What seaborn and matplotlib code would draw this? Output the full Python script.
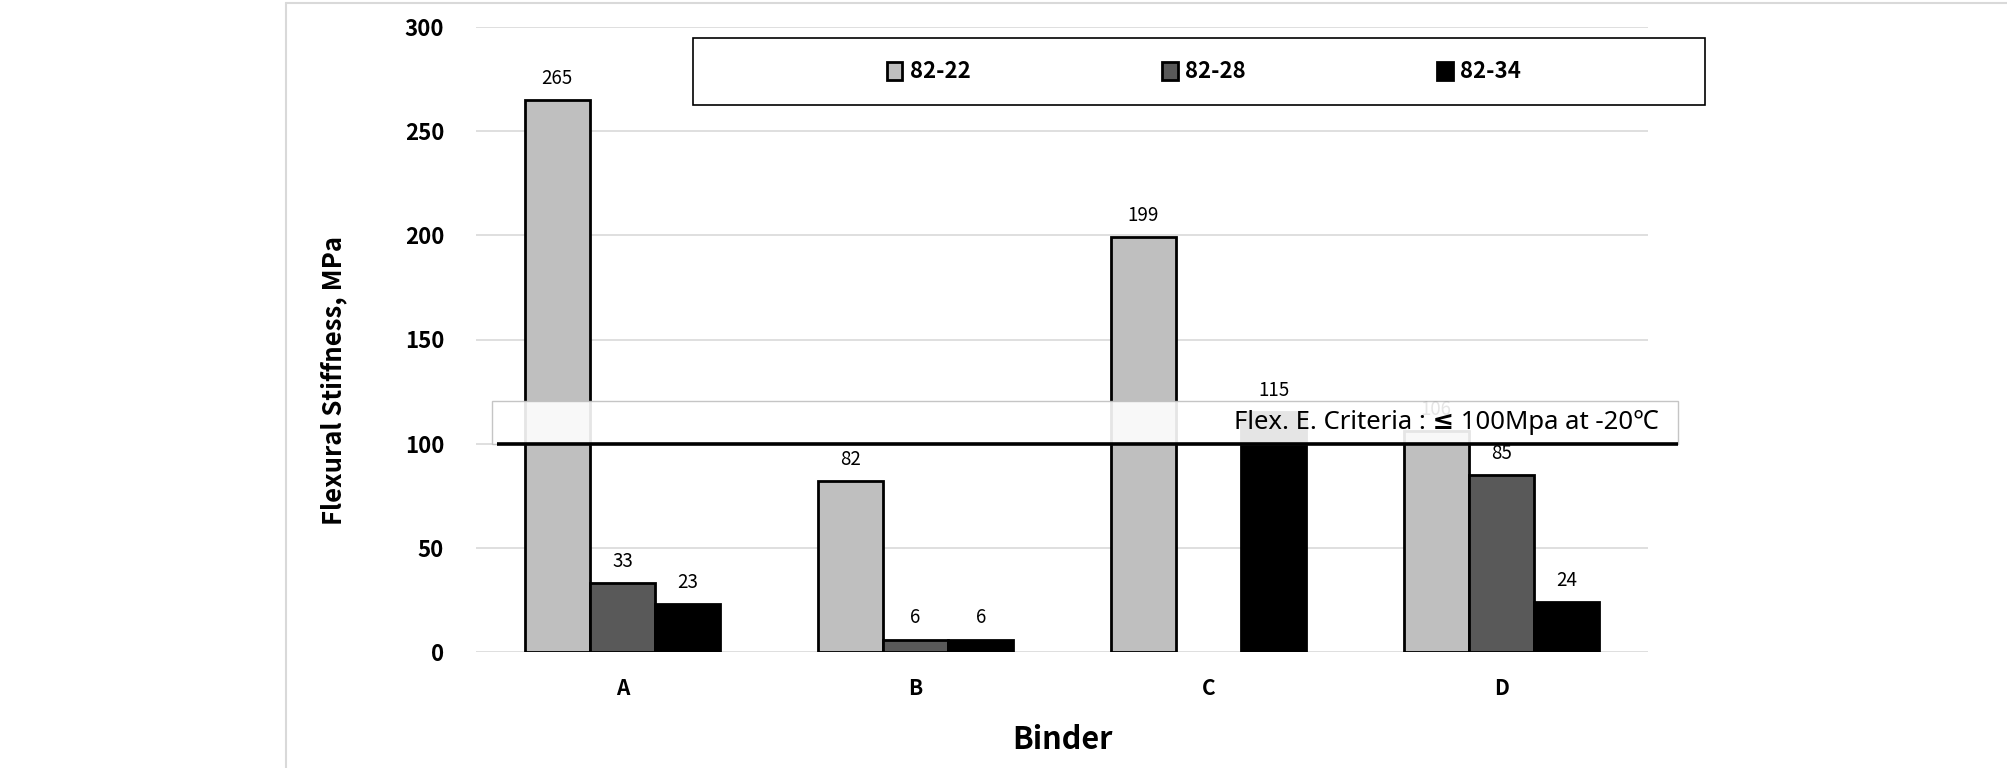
import matplotlib.pyplot as plt
import matplotlib.patches as mpatches
from matplotlib.lines import Line2D
import numpy as np
import pandas as pd
import seaborn as sns

# chart values
binders = ["A", "B", "C", "D"]
grades = ["82-22", "82-28", "82-34"]
stiff_82_22 = [265, 82, 199, 106]
stiff_82_28 = [33, 6, np.nan, 85]
stiff_82_34 = [23, 6, 115, 24]
y_ticks = [0, 50, 100, 150, 200, 250, 300]
criteria_value = 100
criteria_text = "Flex. E. Criteria : \u2264 100Mpa at -20\u2103"

colors = {"82-22": "#BFBFBF", "82-28": "#595959", "82-34": "#000000"}

df = pd.DataFrame({
    "Binder": binders * 3,
    "Grade": [g for g in grades for _ in binders],
    "Stiffness": stiff_82_22 + stiff_82_28 + stiff_82_34,
})

sns.set_theme(style="white")
plt.rcParams['font.family'] = ['Noto Sans CJK KR', 'DejaVu Sans']
plt.rcParams['text.color'] = 'black'

fig = plt.figure(figsize=(20.08, 7.68), dpi=100)
ax = fig.add_axes([476 / 2008, 1 - 652 / 768, (1648 - 476) / 2008, (652 - 27) / 768])

sns.barplot(data=df, x="Binder", y="Stiffness", hue="Grade", hue_order=grades,
            order=binders, palette=colors, width=0.668, errorbar=None,
            edgecolor="black", linewidth=2, saturation=1, ax=ax, zorder=2)

handles, labels = ax.get_legend_handles_labels()
ax.get_legend().remove()

# value labels on top of bars
for cont in ax.containers:
    ax.bar_label(cont, fmt="%g", padding=8, fontsize=13.5, color="black", zorder=3)

ax.set_ylim(0, 300)
ax.set_xlim(-0.5, 3.5)
ax.set_yticks(y_ticks)
ax.yaxis.grid(True, color="#D9D9D9", linewidth=1.2, zorder=0)
ax.set_axisbelow(True)
for s in ax.spines.values():
    s.set_visible(False)

ax.tick_params(axis="y", length=0, pad=23, labelsize=16, labelcolor="black")
ax.tick_params(axis="x", length=0, pad=19, labelsize=15, labelcolor="black")
for t in ax.get_yticklabels() + ax.get_xticklabels():
    t.set_fontweight("bold")

ax.set_ylabel("Flexural Stiffness, MPa", fontsize=18.5, fontweight="bold", color="black")
ax.yaxis.set_label_coords(-0.110, 0.434)
ax.yaxis.label.set_va("bottom")
ax.set_xlabel("Binder", fontsize=22, fontweight="bold", color="black")
ax.xaxis.set_label_coords(0.5, -0.141)
ax.xaxis.label.set_va("center")

# criteria box + line
box = mpatches.Rectangle((-0.445, criteria_value), 3.602 + 0.445, 20.6,
                         facecolor="white", alpha=0.9, edgecolor="#BFBFBF",
                         linewidth=1, zorder=4, clip_on=False)
ax.add_patch(box)
ax.plot([-0.428, 3.602], [criteria_value, criteria_value], color="black",
        linewidth=2.6, zorder=5, clip_on=False, solid_capstyle="butt")
ax.text(3.538, criteria_value + 10.3, criteria_text, ha="right", va="center",
        fontsize=18.5, fontweight="semibold", color="black", zorder=6, clip_on=False,
        family=["Noto Sans", "DejaVu Sans", "Noto Sans CJK KR"])

# legend box
leg_box = mpatches.Rectangle((693 / 2008, 1 - 105 / 768), (1705 - 693) / 2008, 67 / 768,
                             transform=fig.transFigure, facecolor="white",
                             edgecolor="black", linewidth=1.2)
fig.patches.append(leg_box)
fig.legend(handles, labels, loc="center", bbox_to_anchor=(1204 / 2008, 1 - 72 / 768),
           ncol=3, frameon=False, prop={"weight": "bold", "size": 16},
           handlelength=0.7, handleheight=0.85, handletextpad=0.35, columnspacing=8.6)

# outer chart frame
fig.add_artist(Line2D([286 / 2008, 286 / 2008], [0, 1 - 3 / 768], color="#D9D9D9",
                      linewidth=1.5, transform=fig.transFigure))
fig.add_artist(Line2D([286 / 2008, 1], [1 - 3 / 768, 1 - 3 / 768], color="#D9D9D9",
                      linewidth=1.5, transform=fig.transFigure))

fig.savefig("out.png", dpi=100, facecolor="white")
